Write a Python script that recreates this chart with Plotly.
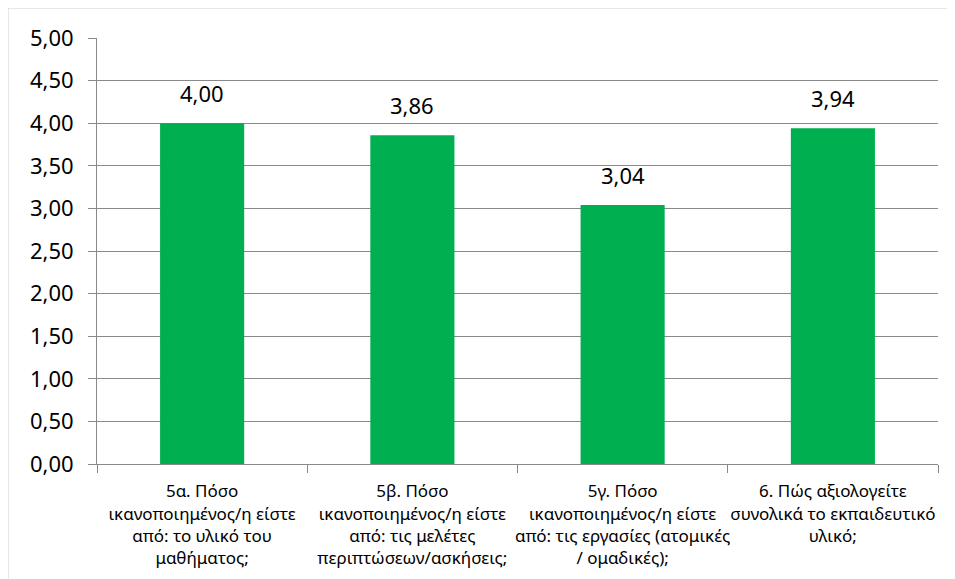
import plotly.graph_objects as go

categories = [
    "5α. Πόσο<br>ικανοποιημένος/η είστε<br>από: το υλικό του<br>μαθήματος;",
    "5β. Πόσο<br>ικανοποιημένος/η είστε<br>από: τις μελέτες<br>περιπτώσεων/ασκήσεις;",
    "5γ. Πόσο<br>ικανοποιημένος/η είστε<br>από: τις εργασίες (ατομικές<br>/ ομαδικές);",
    "6. Πώς αξιολογείτε<br>συνολικά το εκπαιδευτικό<br>υλικό;",
]
values = [4.00, 3.86, 3.04, 3.94]
y_ticks = [0, 0.5, 1, 1.5, 2, 2.5, 3, 3.5, 4, 4.5, 5]

font_family = "Noto Sans"
grid_col = "#898989"

fig = go.Figure()
fig.add_trace(go.Bar(
    x=categories,
    y=values,
    marker=dict(color="#00b050", line=dict(width=0)),
))

# value labels above bars (excel-like gap)
for cat, val in zip(categories, values):
    fig.add_annotation(
        x=cat, y=val, text="{:.2f}".format(val).replace(".", ","),
        showarrow=False, yanchor="bottom", yshift=13,
        font=dict(size=22, color="black", family=font_family),
    )

fig.update_layout(
    width=955, height=579,
    margin=dict(l=89, r=25, t=30, b=123),
    plot_bgcolor="white", paper_bgcolor="white",
    separators=",.",
    bargap=0.6,
    showlegend=False,
    font=dict(family=font_family, color="black"),
    shapes=[dict(
        type="rect", xref="paper", yref="paper",
        x0=-0.1058, x1=1.03, y0=-0.30, y1=1.0704,
        line=dict(color="#d0d0d0", width=1), layer="below",
    )],
)
fig.update_yaxes(
    range=[0, 5], tickvals=y_ticks, tickformat=".2f",
    showgrid=True, gridcolor=grid_col, gridwidth=1,
    showline=True, linecolor=grid_col, linewidth=1,
    ticks="outside", ticklen=8, tickcolor=grid_col,
    tickfont=dict(size=22, family=font_family),
    ticklabelstandoff=10,
    zeroline=False,
)
fig.update_xaxes(
    showline=True, linecolor=grid_col, linewidth=1,
    ticks="outside", tickson="boundaries", ticklen=8, tickcolor=grid_col,
    tickfont=dict(size=17, family=font_family),
    tickangle=0, ticklabelstandoff=12,
)

fig.write_html("out.html")
